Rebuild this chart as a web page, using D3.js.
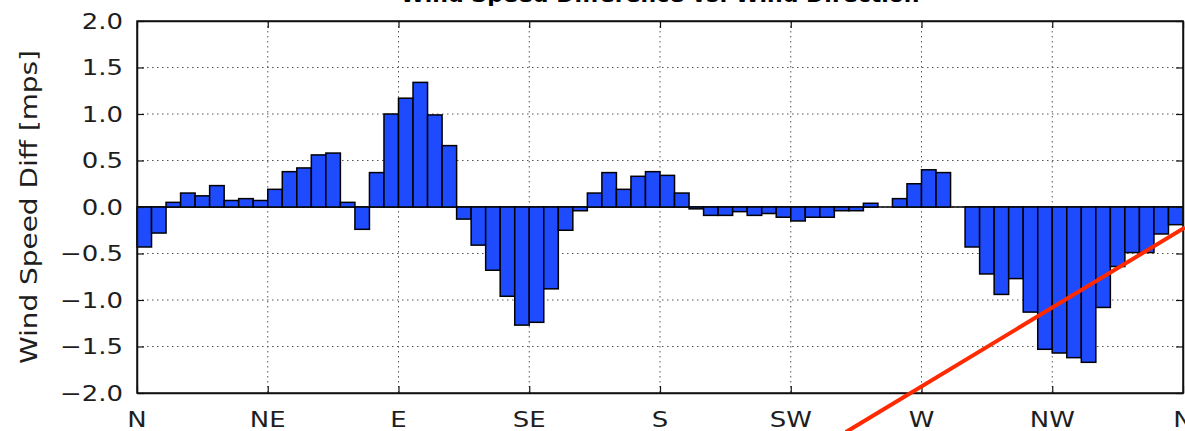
<!DOCTYPE html>
<html>
<head>
<meta charset="utf-8">
<script src="https://d3js.org/d3.v7.min.js"></script>
<style>
    body { margin: 0; background: #fff; }
    svg { display: block; font-family: "DejaVu Sans", sans-serif; }
</style>
</head>
<body>
<svg id="chart" width="1185" height="431"></svg>
<script>
// direction ticks and y ticks
var dirLabels = ['N', 'NE', 'E', 'SE', 'S', 'SW', 'W', 'NW', 'N']
var dirDegrees = [0, 45, 90, 135, 180, 225, 270, 315, 360]
var yTicks = [-2.0, -1.5, -1.0, -0.5, 0.0, 0.5, 1.0, 1.5, 2.0]

// 5 degree direction bins (start of each bin)
var binStart = d3.range(0, 360, 5)
var binWidth = 5

// wind speed difference per bin [mps]
var speedDiff = [
    -0.43, -0.28, 0.05, 0.15, 0.12, 0.23, 0.07, 0.09, 0.07,
    0.19, 0.38, 0.42, 0.56, 0.58, 0.05, -0.24, 0.37, 1.00,
    1.17, 1.34, 0.99, 0.66, -0.13, -0.41, -0.68, -0.96, -1.27,
    -1.24, -0.88, -0.25, -0.04, 0.15, 0.37, 0.19, 0.33, 0.38,
    0.34, 0.15, -0.02, -0.09, -0.09, -0.05, -0.09, -0.07, -0.11,
    -0.15, -0.11, -0.11, -0.04, -0.04, 0.04, 0.00, 0.09, 0.25,
    0.40, 0.37, 0.00, -0.43, -0.72, -0.94, -0.77, -1.13, -1.53,
    -1.57, -1.62, -1.67, -1.08, -0.64, -0.49, -0.49, -0.29, -0.19
]

var titleText = 'Wind Speed Difference vs. Wind Direction'
var yLabel = 'Wind Speed Diff [mps]'

// red annotation stroke, in data units (degrees, mps)
var markStart = [244, -2.42]
var markEnd = [360.7, -0.22]

var margin = { top: 21, right: 2, bottom: 38, left: 137 }
var width = 1185
var height = 431

var svg = d3.select('#chart')

var xScale = d3.scaleLinear()
    .domain([0, 360])
    .range([margin.left, width - margin.right])

var yScale = d3.scaleLinear()
    .domain([-2, 2])
    .range([height - margin.bottom, margin.top])

var textColor = '#1e1e1e'
var stretch = 1.18

// grid
var gridG = svg.append('g')
gridG.selectAll('.vgrid').data(dirDegrees.slice(1, -1)).enter().append('line')
    .attr('x1', d => xScale(d)).attr('x2', d => xScale(d))
    .attr('y1', yScale(2)).attr('y2', yScale(-2))
    .attr('stroke', '#555').attr('stroke-width', 1).attr('stroke-dasharray', '1.5,3.5')
gridG.selectAll('.hgrid').data(yTicks.slice(1, -1)).enter().append('line')
    .attr('x1', xScale(0)).attr('x2', xScale(360))
    .attr('y1', d => yScale(d)).attr('y2', d => yScale(d))
    .attr('stroke', '#555').attr('stroke-width', 1).attr('stroke-dasharray', '1.5,3.5')

// zero line
svg.append('line')
    .attr('x1', xScale(0)).attr('x2', xScale(360))
    .attr('y1', yScale(0)).attr('y2', yScale(0))
    .attr('stroke', '#000').attr('stroke-width', 1.5)

// bars
svg.append('g').selectAll('rect')
    .data(binStart)
    .enter().append('rect')
    .attr('x', d => xScale(d))
    .attr('width', d => xScale(d + binWidth) - xScale(d))
    .attr('y', (d, i) => yScale(Math.max(0, speedDiff[i])))
    .attr('height', (d, i) => Math.abs(yScale(speedDiff[i]) - yScale(0)))
    .attr('fill', '#1f4bff')
    .attr('stroke', '#000')
    .attr('stroke-width', 1.5)

// axes - ticks point inwards, on all four sides
var xAxisBottom = d3.axisBottom(xScale).tickValues(dirDegrees).tickSizeInner(-7).tickSizeOuter(0).tickFormat('')
var xAxisTop = d3.axisTop(xScale).tickValues(dirDegrees).tickSizeInner(-7).tickSizeOuter(0).tickFormat('')
var yAxisLeft = d3.axisLeft(yScale).tickValues(yTicks).tickSizeInner(-7).tickSizeOuter(0).tickFormat('')
var yAxisRight = d3.axisRight(yScale).tickValues(yTicks).tickSizeInner(-7).tickSizeOuter(0).tickFormat('')

svg.append('g').attr('transform', `translate(0, ${yScale(-2)})`).call(xAxisBottom)
svg.append('g').attr('transform', `translate(0, ${yScale(2)})`).call(xAxisTop)
svg.append('g').attr('transform', `translate(${xScale(0)}, 0)`).call(yAxisLeft)
svg.append('g').attr('transform', `translate(${xScale(360)}, 0)`).call(yAxisRight)
svg.selectAll('.domain').attr('stroke', '#111').attr('stroke-width', 1.5)
svg.selectAll('.tick line').attr('stroke', '#111').attr('stroke-width', 1.2)

// frame
svg.append('rect')
    .attr('x', xScale(0)).attr('y', yScale(2))
    .attr('width', xScale(360) - xScale(0)).attr('height', yScale(-2) - yScale(2))
    .attr('fill', 'none').attr('stroke', '#111').attr('stroke-width', 1.5)

// tick labels
svg.append('g').selectAll('text')
    .data(dirDegrees)
    .enter().append('text')
    .attr('transform', (d, i) => `translate(${xScale(d)}, ${yScale(-2) + 34}) scale(${stretch}, 1)`)
    .attr('text-anchor', 'middle')
    .attr('font-size', 22)
    .attr('fill', textColor)
    .text((d, i) => dirLabels[i])

svg.append('g').selectAll('text')
    .data(yTicks)
    .enter().append('text')
    .attr('transform', d => `translate(${xScale(0) - 14}, ${yScale(d)}) scale(${stretch}, 1)`)
    .attr('text-anchor', 'end')
    .attr('dy', '0.36em')
    .attr('font-size', 22)
    .attr('fill', textColor)
    .text(d => d3.format('.1f')(d).replace('-', '\u2212'))

// y label
svg.append('text')
    .attr('transform', `translate(37, ${(yScale(2) + yScale(-2)) / 2}) rotate(-90)`)
    .attr('text-anchor', 'middle')
    .attr('font-size', 23)
    .attr('textLength', 314)
    .attr('lengthAdjust', 'spacingAndGlyphs')
    .attr('fill', textColor)
    .text(yLabel)

// title, mostly cut off at the top edge
svg.append('text')
    .attr('x', (xScale(0) + xScale(360)) / 2)
    .attr('y', 2)
    .attr('text-anchor', 'middle')
    .attr('font-size', 22)
    .attr('font-weight', 'bold')
    .attr('fill', '#000')
    .text(titleText)

// red annotation line
svg.append('line')
    .attr('x1', xScale(markStart[0])).attr('y1', yScale(markStart[1]))
    .attr('x2', xScale(markEnd[0])).attr('y2', yScale(markEnd[1]))
    .attr('stroke', '#ff2a00')
    .attr('stroke-width', 4)
</script>
</body>
</html>
